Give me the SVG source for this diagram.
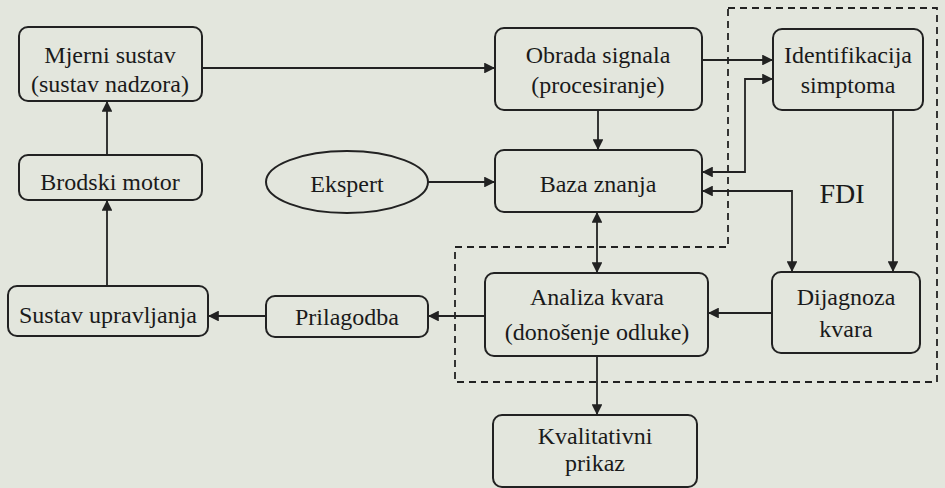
<svg xmlns="http://www.w3.org/2000/svg" width="945" height="488" viewBox="0 0 945 488">
  <style>
    .box { fill: none; stroke: #222; stroke-width: 2; }
    text { font-family: 'Liberation Serif', 'Times New Roman', serif; font-size: 24px; fill: #1a1a1a; text-anchor: middle; }
    .fdi { font-size: 28px; }
    .wire { fill: none; stroke: #222; stroke-width: 1.8; }
    .one { marker-end: url(#ah); }
    .two { marker-start: url(#ah); marker-end: url(#ah); }
    .zone { fill: none; stroke: #222; stroke-width: 1.8; stroke-dasharray: 7 5; }
  </style>
  <defs>
    <marker id="ah" viewBox="0 0 10 10" refX="10" refY="5" markerWidth="6" markerHeight="6" orient="auto-start-reverse">
      <path d="M0,0 L10,5 L0,10 z" fill="#222"/>
    </marker>
  </defs>

  <rect width="945" height="488" fill="#e3e6dd"/>

  <!-- FDI region -->
  <path class="zone" d="M728,8 H937 V382 H455 V247 H728 Z"/>
  <text class="fdi" x="842" y="203">FDI</text>

  <g id="mjerni">
    <rect class="box" x="19" y="27" width="183" height="74" rx="9"/>
    <text x="110" y="63">Mjerni sustav</text>
    <text x="110" y="92">(sustav nadzora)</text>
  </g>
  <g id="brodski">
    <rect class="box" x="19" y="155" width="183" height="45" rx="9"/>
    <text x="110" y="190">Brodski motor</text>
  </g>
  <g id="upravljanje">
    <rect class="box" x="8" y="286" width="200" height="50" rx="9"/>
    <text x="108" y="323">Sustav upravljanja</text>
  </g>
  <g id="prilagodba">
    <rect class="box" x="266" y="296" width="162" height="41" rx="9"/>
    <text x="347" y="325">Prilagodba</text>
  </g>
  <g id="ekspert">
    <ellipse class="box" cx="347" cy="182" rx="81" ry="31"/>
    <text x="347" y="192">Ekspert</text>
  </g>
  <g id="obrada">
    <rect class="box" x="495" y="28" width="207" height="82" rx="9"/>
    <text x="598" y="63">Obrada signala</text>
    <text x="598" y="93">(procesiranje)</text>
  </g>
  <g id="baza">
    <rect class="box" x="495" y="150" width="207" height="62" rx="9"/>
    <text x="598" y="192">Baza znanja</text>
  </g>
  <g id="identifikacija">
    <rect class="box" x="773" y="29" width="150" height="81" rx="9"/>
    <text x="848" y="63">Identifikacija</text>
    <text x="848" y="93">simptoma</text>
  </g>
  <g id="analiza">
    <rect class="box" x="485" y="273" width="223" height="83" rx="9"/>
    <text x="597" y="305">Analiza kvara</text>
    <text x="597" y="340">(donošenje odluke)</text>
  </g>
  <g id="dijagnoza">
    <rect class="box" x="772" y="272" width="148" height="81" rx="9"/>
    <text x="846" y="305">Dijagnoza</text>
    <text x="846" y="337">kvara</text>
  </g>
  <g id="kvalitativni">
    <rect class="box" x="493" y="415" width="204" height="72" rx="9"/>
    <text x="595" y="444">Kvalitativni</text>
    <text x="595" y="471">prikaz</text>
  </g>

  <g id="connectors">
    <path class="wire one" d="M202,68 H495"/>
    <path class="wire one" d="M107,155 V101"/>
    <path class="wire one" d="M107,286 V200"/>
    <path class="wire one" d="M266,316 H208"/>
    <path class="wire one" d="M485,316 H428"/>
    <path class="wire one" d="M428,182 H495"/>
    <path class="wire one" d="M598,110 V150"/>
    <path class="wire one" d="M702,60 H773"/>
    <path class="wire two" d="M702,172 H745 V79 H773"/>
    <path class="wire two" d="M702,191 H792 V272"/>
    <path class="wire one" d="M893,110 V272"/>
    <path class="wire two" d="M597,212 V273"/>
    <path class="wire one" d="M772,313 H708"/>
    <path class="wire one" d="M597,356 V415"/>
  </g>
</svg>
